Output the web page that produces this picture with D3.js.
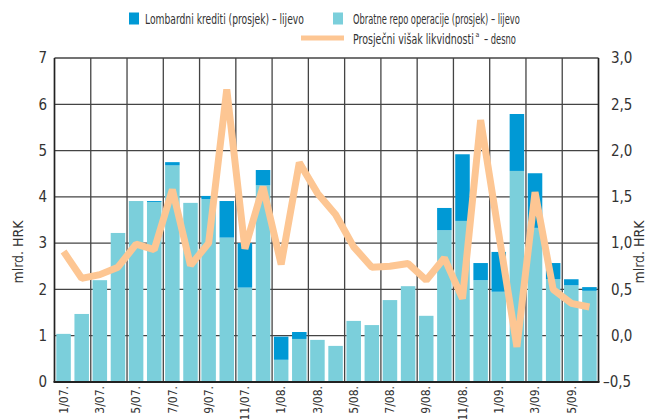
<!DOCTYPE html>
<html>
<head>
<meta charset="utf-8">
<script src="https://cdn.jsdelivr.net/npm/d3@7"></script>
<style>
  body { margin: 0; background: #fff; }
  svg text { font-family: "Liberation Sans Narrow", "DejaVu Sans Condensed", "Roboto", sans-serif; fill: #333; }
</style>
</head>
<body>
<svg id="chart" width="646" height="419"></svg>
<script>
// months, one bar each
const months = [
	'1/07.', '2/07.', '3/07.', '4/07.', '5/07.', '6/07.', '7/07.', '8/07.', '9/07.', '10/07.', '11/07.', '12/07.',
	'1/08.', '2/08.', '3/08.', '4/08.', '5/08.', '6/08.', '7/08.', '8/08.', '9/08.', '10/08.', '11/08.', '12/08.',
	'1/09.', '2/09.', '3/09.', '4/09.', '5/09.', '6/09.',
];

// Obratne repo operacije (prosjek), mlrd. HRK
const repo = [
	1.04, 1.47, 2.20, 3.22, 3.91, 3.89, 4.68, 3.87, 3.95, 3.12, 2.04, 4.25,
	0.48, 0.93, 0.91, 0.78, 1.32, 1.23, 1.77, 2.07, 1.43, 3.28, 3.48, 2.20,
	1.95, 4.56, 3.33, 2.22, 2.09, 1.97,
];

// Lombardni krediti (prosjek), mlrd. HRK
const lombard = [
	0, 0, 0, 0, 0, 0.02, 0.07, 0, 0.07, 0.79, 0.96, 0.33,
	0.50, 0.15, 0, 0, 0, 0, 0, 0, 0, 0.48, 1.44, 0.37,
	0.86, 1.23, 1.18, 0.35, 0.13, 0.08,
];

// Prosječni višak likvidnosti, mlrd. HRK (right axis)
const excess = [
	0.91, 0.62, 0.66, 0.74, 0.99, 0.93, 1.58, 0.76, 1.00, 2.66, 0.94, 1.61,
	0.77, 1.87, 1.54, 1.31, 0.96, 0.74, 0.75, 0.78, 0.60, 0.84, 0.40, 2.33,
	1.10, -0.12, 1.55, 0.50, 0.35, 0.31,
];

const leftTicks = [0, 1, 2, 3, 4, 5, 6, 7];
const rightTicks = [-0.5, 0, 0.5, 1.0, 1.5, 2.0, 2.5, 3.0];

const colors = {
	lombard: '#0099d5',
	repo: '#7bcfdb',
	line: '#fdc693',
	grid: '#444',
};

const margin = { top: 58, right: 47, bottom: 37, left: 54.5 };
const height = 419;
const plotW = 598.5 - margin.left;
const plotH = height - margin.bottom - margin.top;

const svg = d3.select('#chart');

const x = d3.scaleBand().domain(months).range([margin.left, margin.left + plotW])
	.paddingInner(0.2).paddingOuter(0.1);
const yL = d3.scaleLinear().domain([0, 7]).range([margin.top + plotH, margin.top]);
const yR = d3.scaleLinear().domain([-0.5, 3.0]).range([margin.top + plotH, margin.top]);

// Grid
const gGrid = svg.append('g');
gGrid.selectAll('line.h').data(leftTicks.slice(1)).enter().append('line')
	.attr('x1', margin.left).attr('x2', margin.left + plotW)
	.attr('y1', d => yL(d)).attr('y2', d => yL(d))
	.attr('stroke', colors.grid).attr('stroke-width', 1.3);

// vertical lines every two months
const gridIdx = d3.range(0, months.length + 1, 2);
const slotEdge = i => i < months.length
	? x(months[i]) - x.step() * x.paddingInner() / 2
	: margin.left + plotW;
gGrid.selectAll('line.v').data(gridIdx).enter().append('line')
	.attr('x1', i => slotEdge(i)).attr('x2', i => slotEdge(i))
	.attr('y1', margin.top).attr('y2', margin.top + plotH)
	.attr('stroke', colors.grid).attr('stroke-width', 1.3);

// Bars
const gBars = svg.append('g');
gBars.selectAll('rect.repo').data(months).enter().append('rect')
	.attr('x', d => x(d)).attr('width', x.bandwidth())
	.attr('y', (d, i) => yL(repo[i]))
	.attr('height', (d, i) => yL(0) - yL(repo[i]))
	.attr('fill', colors.repo);
gBars.selectAll('rect.lomb').data(months).enter().append('rect')
	.attr('x', d => x(d)).attr('width', x.bandwidth())
	.attr('y', (d, i) => yL(repo[i] + lombard[i]))
	.attr('height', (d, i) => yL(repo[i]) - yL(repo[i] + lombard[i]))
	.attr('fill', colors.lombard);

// Line
svg.append('path')
	.datum(excess)
	.attr('fill', 'none')
	.attr('stroke', colors.line)
	.attr('stroke-width', 7)
	.attr('stroke-linejoin', 'bevel')
	.attr('d', d3.line()
		.x((d, i) => x(months[i]) + x.bandwidth() / 2)
		.y(d => yR(d)));

// Axis frame
svg.append('line')
	.attr('x1', margin.left).attr('x2', margin.left)
	.attr('y1', margin.top).attr('y2', margin.top + plotH)
	.attr('stroke', '#222').attr('stroke-width', 1.5);
svg.append('line')
	.attr('x1', margin.left + plotW).attr('x2', margin.left + plotW)
	.attr('y1', margin.top).attr('y2', margin.top + plotH)
	.attr('stroke', '#222').attr('stroke-width', 1.5);
svg.append('line')
	.attr('x1', margin.left - 1).attr('x2', margin.left + plotW + 1)
	.attr('y1', yL(0)).attr('y2', yL(0))
	.attr('stroke', '#222').attr('stroke-width', 2);

// Left tick labels
svg.append('g').selectAll('text').data(leftTicks).enter().append('text')
	.attr('x', 47).attr('y', d => yL(d)).attr('dy', '0.35em')
	.attr('text-anchor', 'end').attr('font-size', 15)
	.text(d => d);

// Right tick labels, the minus hangs to the left
const fmtR = d => (d < 0 ? '\u2013' : '') + Math.abs(d).toFixed(1).replace('.', ',');
svg.append('g').selectAll('text').data(rightTicks).enter().append('text')
	.attr('x', d => d < 0 ? 603 : 611).attr('y', d => yR(d)).attr('dy', '0.35em')
	.attr('text-anchor', 'start').attr('font-size', 15)
	.text(fmtR);

// X labels, every other month
svg.append('g').selectAll('text').data(months.filter((d, i) => i % 2 === 0)).enter().append('text')
	.attr('transform', d => `translate(${x(d) + x.bandwidth() / 2},386) rotate(-90)`)
	.attr('dy', '0.35em')
	.attr('text-anchor', 'end').attr('font-size', 12)
	.text(d => d);

// Axis titles
svg.append('text')
	.attr('transform', 'translate(18,252) rotate(-90)')
	.attr('dy', '0.35em').attr('text-anchor', 'middle').attr('font-size', 14)
	.text('mlrd. HRK');
svg.append('text')
	.attr('transform', 'translate(639,252) rotate(-90)')
	.attr('dy', '0.35em').attr('text-anchor', 'middle').attr('font-size', 14)
	.text('mlrd. HRK');

// Legend: the source font is very condensed, so squeeze each text to its width
const gLegend = svg.append('g');
function fitText(str, x0, y0, w, size = 14.5) {
	const t = gLegend.append('text').attr('font-size', size).text(str);
	const natural = t.node().getComputedTextLength();
	t.attr('transform', `translate(${x0},${y0}) scale(${w / natural},1)`);
	return t;
}
gLegend.append('rect').attr('x', 129).attr('y', 12.5).attr('width', 10).attr('height', 12).attr('fill', colors.lombard);
fitText('Lombardni krediti (prosjek) \u2013 lijevo', 145, 24, 159);
gLegend.append('rect').attr('x', 333).attr('y', 12.5).attr('width', 10).attr('height', 12).attr('fill', colors.repo);
fitText('Obratne repo operacije (prosjek) \u2013 lijevo', 353, 24, 167);
gLegend.append('line').attr('x1', 301).attr('x2', 344).attr('y1', 38).attr('y2', 38)
	.attr('stroke', colors.line).attr('stroke-width', 5);
fitText('Prosje\u010dni vi\u0161ak likvidnosti', 353, 43.5, 121);
gLegend.append('text').attr('x', 475.5).attr('y', 36.5).attr('font-size', 7).text('a');
fitText('\u2013 desno', 484, 43.5, 32);
</script>
</body>
</html>
